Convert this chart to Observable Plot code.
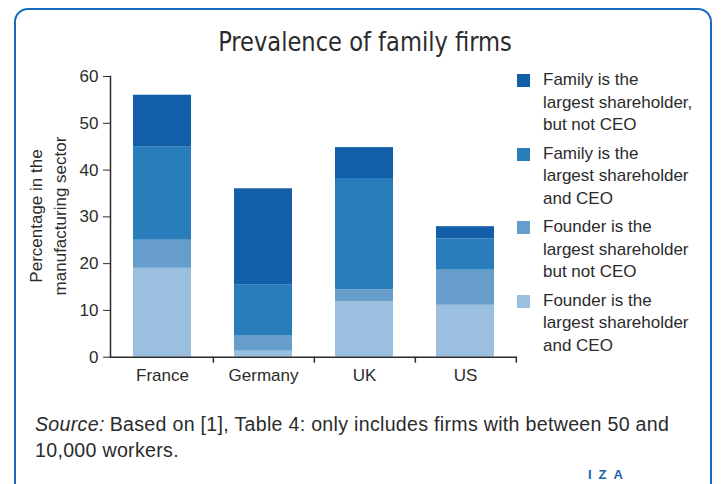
<!DOCTYPE html>
<html>
<head>
<meta charset="utf-8">
<script src="https://cdn.jsdelivr.net/npm/d3@7"></script>
<script src="https://cdn.jsdelivr.net/npm/@observablehq/plot@0.6"></script>
<style>
  html, body { margin: 0; padding: 0; background: #fff; }
  #wrap { position: relative; width: 721px; height: 484px; overflow: hidden; font-family: "Liberation Sans", Arial, sans-serif; color: #2b2b2b; }
  #wrap svg { position: absolute; left: 0; top: 0; }
  .border { position: absolute; left: 14px; top: 8px; width: 698px; height: 490px; border: 2px solid #1a6cbf; border-radius: 14px; box-sizing: border-box; }
  .title { position: absolute; left: 0; top: 26px; width: 730px; text-align: center; font-family: "Liberation Sans Narrow", "DejaVu Sans Condensed", sans-serif; font-size: 27px; transform: scaleX(0.93); transform-origin: 365px 0; }
  .ylab { position: absolute; left: 49px; top: 216px; transform: translate(-50%, -50%) rotate(-90deg); text-align: center; font-size: 17px; line-height: 24px; white-space: nowrap; }
  .legend { position: absolute; left: 517px; top: 69px; }
  .item { position: relative; padding-left: 26px; width: 180px; font-size: 17px; line-height: 22.5px; margin-bottom: 6px; white-space: nowrap; }
  .sw { position: absolute; left: 0; top: 5px; width: 13px; height: 13px; }
  .caption { position: absolute; left: 35px; top: 411px; white-space: nowrap; font-size: 19.6px; letter-spacing: 0.3px; line-height: 26px; }
  .caption i { margin-right: 5px; }
  .iza { position: absolute; left: 588px; top: 467px; font-size: 13px; font-weight: bold; color: #1a5fb0; letter-spacing: 7px; }
</style>
</head>
<body>
<div id="wrap"></div>
<script>
const countries = ["France", "Germany", "UK", "US"];
const categories = [
  "Founder is the largest shareholder and CEO",
  "Founder is the largest shareholder but not CEO",
  "Family is the largest shareholder and CEO",
  "Family is the largest shareholder, but not CEO"
];
const founderCEO    = [19.0, 1.3, 11.8, 11.1];
const founderNotCEO = [6.0, 3.2, 2.6, 7.5];
const familyCEO     = [20.0, 11.0, 23.8, 6.7];
const familyNotCEO  = [11.0, 20.5, 6.6, 2.6];
const colors = ["#9bbfdf", "#669dcb", "#2a7dbb", "#135ea9"];
const yTicks = [0, 10, 20, 30, 40, 50, 60];

const series = [founderCEO, founderNotCEO, familyCEO, familyNotCEO];
const data = [];
countries.forEach((c, i) => series.forEach((s, j) => data.push({country: c, category: categories[j], value: s[i]})));

const W = 721, H = 484, ML = 110, MR = 204.3, MT = 76, MB = 127.3;
const step = (W - ML - MR) / countries.length;

const chart = Plot.plot({
  width: W, height: H,
  marginLeft: ML, marginRight: MR, marginTop: MT, marginBottom: MB,
  style: {fontFamily: "'Liberation Sans', Arial, sans-serif", fontSize: "17px", color: "#2b2b2b", background: "transparent", overflow: "visible"},
  x: {domain: countries, paddingInner: 0.427, paddingOuter: 0.2135, label: null},
  y: {domain: [0, 60], label: null},
  color: {domain: categories, range: colors},
  marks: [
    Plot.barY(data, {x: "country", y: "value", fill: "category", order: categories}),
    Plot.ruleY([0], {stroke: "#2b2b2b", strokeWidth: 1.5}),
    Plot.frame({anchor: "left", stroke: "#2b2b2b", strokeWidth: 1.5}),
    Plot.axisY({ticks: yTicks, tickSize: 7, tickPadding: 5, label: null, fontSize: 17, stroke: "#2b2b2b"}),
    Plot.axisX({tickSize: 0, tickPadding: 12, label: null, fontSize: 17}),
    Plot.axisX({tickSize: 6, text: null, label: null, dx: step / 2, stroke: "#2b2b2b", strokeWidth: 1.5})
  ]
});

const wrap = document.getElementById("wrap");
wrap.appendChild(chart);

const add = (cls, html) => { const d = document.createElement("div"); d.className = cls; d.innerHTML = html; wrap.appendChild(d); return d; };
add("border", "");
add("title", "Prevalence of family firms");
add("ylab", "Percentage in the<br>manufacturing sector");
const legend = add("legend", "");
categories.slice().reverse().forEach((c) => {
  const it = document.createElement("div");
  it.className = "item";
  const label = c.replace(" largest", "<br>largest").replace(/(shareholder,?) /, "$1<br>");
  it.innerHTML = `<span class="sw" style="background:${colors[categories.indexOf(c)]}"></span>${label}`;
  legend.appendChild(it);
});
add("caption", "<i>Source:</i><span>Based on [1], Table 4: only includes firms with between 50 and</span><br><span>10,000 workers.</span>");
add("iza", "IZA");
</script>
</body>
</html>
